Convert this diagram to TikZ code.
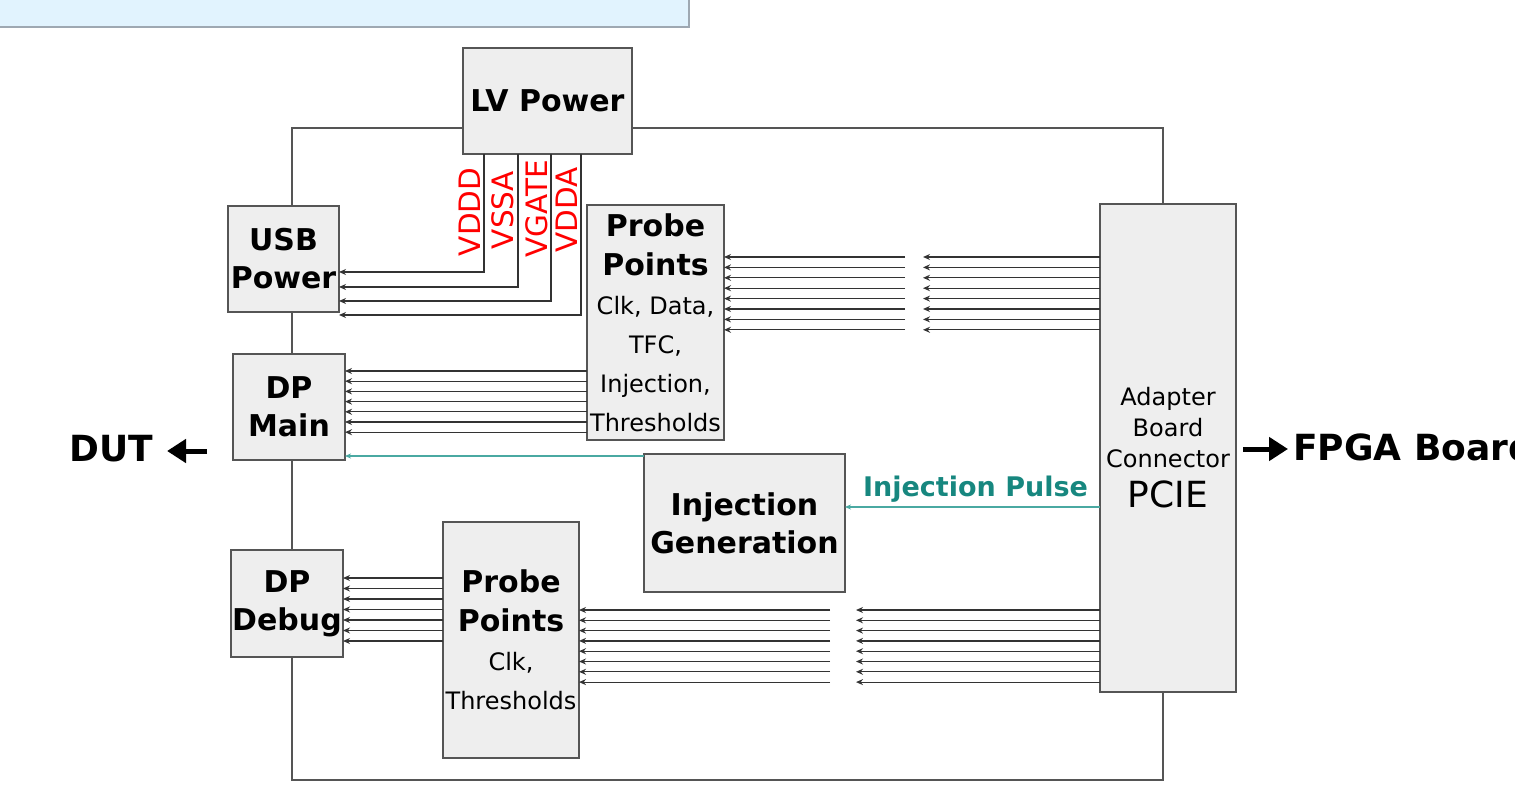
\documentclass[tikz,border=0pt]{standalone}
\usepackage{fontspec}
\setmainfont{DejaVu Sans}
\usetikzlibrary{arrows.meta}
\definecolor{boxfill}{HTML}{EEEEEE}
\definecolor{boxline}{HTML}{555555}
\definecolor{wire}{HTML}{333333}
\definecolor{tealtxt}{HTML}{17877F}
\definecolor{tealline}{HTML}{4AA9A2}
\definecolor{barfill}{HTML}{E1F3FE}
\definecolor{barline}{HTML}{9EA8B2}
\definecolor{vred}{HTML}{FF0000}
\newcommand\bigbold[1]{{\fontsize{30}{39}\selectfont\bfseries #1}}
\begin{document}
\begin{tikzpicture}[x=1pt,y=-1pt,
  blk/.style={draw=boxline, line width=1.5pt, fill=boxfill, inner sep=0pt, outer sep=0pt, align=center},
  btxt/.style={font=\fontsize{30}{38}\selectfont\bfseries},
  rtxt/.style={font=\fontsize{24}{39}\selectfont},
  frame/.style={draw=boxline, line width=1.5pt},
  arr/.style={draw=wire, line width=1.2pt, -{Stealth[length=7pt,width=6pt]}},
  tarr/.style={draw=tealline, line width=1.3pt, -{Stealth[length=6pt,width=5pt]}},
  bigarr/.style={draw=black, line width=5pt, -{Triangle[length=19pt,width=23pt]}},
  vlab/.style={rotate=90, anchor=base, text=vred, font=\fontsize{29.5}{29.5}\selectfont, inner sep=0pt}
]
\useasboundingbox (0,0) rectangle (1515,791);

% top light bar
\fill[barfill] (0,0) rectangle (689,27);
\draw[barline, line width=1.5pt] (0,27) -- (689,27) -- (689,0);

% outer frame
\draw[frame] (292,128) rectangle (1163,780);

% boxes
\node[blk, btxt, minimum width=169pt, minimum height=106pt] (lv) at (547.5,101) {LV Power};
\node[blk, btxt, minimum width=111pt, minimum height=106pt] (usb) at (283.5,259) {USB\\Power};
\node[blk, btxt, minimum width=112pt, minimum height=106pt] (dpm) at (289,407) {DP\\Main};
\node[blk, btxt, minimum width=112pt, minimum height=107pt] (dpd) at (287,603.5) {DP\\Debug};
\node[blk, rtxt, minimum width=137pt, minimum height=235pt] (pp1) at (655.5,322.5)
  {\bigbold{Probe}\\\bigbold{Points}\\Clk, Data,\\TFC,\\Injection,\\Thresholds};
\node[blk, rtxt, minimum width=136pt, minimum height=236pt] (pp2) at (511,640)
  {\bigbold{Probe}\\\bigbold{Points}\\Clk,\\Thresholds};
\node[blk, btxt, minimum width=201pt, minimum height=138pt] (inj) at (744.5,523) {Injection\\Generation};
\node[blk, font=\fontsize{24}{31}\selectfont, minimum width=136pt, minimum height=488pt] (ad) at (1168,448)
  {Adapter\\Board\\Connector\\[9pt]{\fontsize{36}{40}\selectfont PCIE}};

% LV power rails
\node[vlab] (lvddd) at (480,212) {VDDD};
\node[vlab] (lvssa) at (513,210) {VSSA};
\node[vlab] (lvgate) at (547,209) {VGATE};
\node[vlab] (lvdda) at (577,210) {VDDA};
\draw[arr] (lv.south -| 484,0) |- (usb.east |- 0,272);
\draw[arr] (lv.south -| 518,0) |- (usb.east |- 0,287);
\draw[arr] (lv.south -| 551,0) |- (usb.east |- 0,301);
\draw[arr] (lv.south -| 581,0) |- (usb.east |- 0,315);

% top probe bus (adapter -> probe points)
\foreach \i in {0,...,7}{
  \pgfmathsetmacro\yy{257+10.4*\i}
  \coordinate (ta\i) at (923,\yy);
  \coordinate (tb\i) at (905,\yy);
  \draw[arr] (ad.west |- ta\i) -- (ta\i);
  \draw[arr] (tb\i) -- (pp1.east |- tb\i);
}
% probe points -> DP main
\foreach \i in {0,...,6}{
  \pgfmathsetmacro\yy{371+10.2*\i}
  \draw[arr] (pp1.west |- 0,\yy) -- (dpm.east |- 0,\yy);
}
% bottom probe bus
\foreach \i in {0,...,7}{
  \pgfmathsetmacro\yy{610+10.3*\i}
  \coordinate (ba\i) at (856,\yy);
  \coordinate (bb\i) at (830,\yy);
  \draw[arr] (ad.west |- ba\i) -- (ba\i);
  \draw[arr] (bb\i) -- (pp2.east |- bb\i);
}
% probe points -> DP debug
\foreach \i in {0,...,6}{
  \pgfmathsetmacro\yy{578+10.5*\i}
  \draw[arr] (pp2.west |- 0,\yy) -- (dpd.east |- 0,\yy);
}

% injection lines
\draw[tarr] (inj.north west |- 0,456) -- (dpm.east |- 0,456);
\draw[tarr] (ad.west |- 0,507) -- (inj.east |- 0,507);
\node[text=tealtxt, font=\fontsize{27}{27}\selectfont\bfseries, inner sep=0pt] (ipl) at (975.5,489) {Injection Pulse};

% DUT / FPGA
\node[font=\fontsize{36}{36}\selectfont\bfseries, inner sep=0pt] (dut) at (111,449) {DUT};
\coordinate (dutA) at (207,451);
\draw[bigarr] (dutA) -- ([xshift=14pt]dut.east |- dutA);
\node[font=\fontsize{36}{36}\selectfont\bfseries, inner sep=0pt, anchor=west] (fpga) at (1293,447) {FPGA Board};
\coordinate (fpA) at (1243,449);
\draw[bigarr] (fpA) -- ([xshift=-5pt]fpga.west |- fpA);
\end{tikzpicture}
\end{document}
